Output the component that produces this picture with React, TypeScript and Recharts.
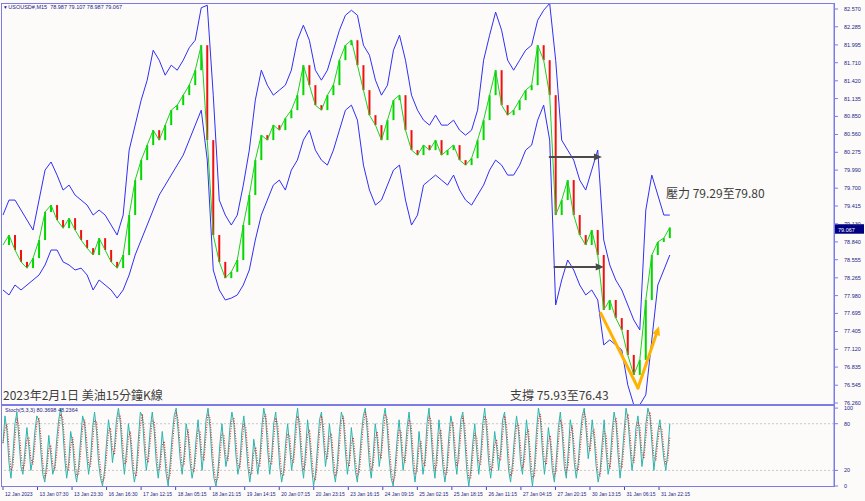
import React from "react";
import { ComposedChart, Line, Bar, Cell, XAxis, YAxis, ReferenceLine } from "recharts";

// USOUSD M15, 12 Jan - 1 Feb 2023, one sample every ~11 bars
const closes = [
  78.79, 78.95, 78.71, 78.52, 78.42, 78.58, 78.87, 79.32, 79.43, 79.19,
  79.06, 79.22, 79.03, 78.87, 78.74, 78.63, 78.9, 78.71, 78.52, 78.42,
  78.63, 79.27, 79.83, 80.15, 80.39, 80.63, 80.47, 80.71, 80.95, 81.03,
  81.19, 81.35, 81.59, 81.99, 80.47, 78.95, 78.52, 78.26, 78.36, 78.55,
  79.11, 79.59, 80.15, 80.55, 80.47, 80.71, 80.63, 80.82, 80.95, 81.19,
  81.67, 81.35, 81.03, 80.95, 81.19, 81.35, 81.75, 81.99, 82.07, 81.67,
  81.27, 80.87, 80.71, 80.47, 80.79, 81.11, 81.19, 80.63, 80.31, 80.23,
  80.39, 80.31, 80.47, 80.23, 80.31, 80.39, 80.15, 80.07, 80.18, 80.47,
  80.79, 81.19, 81.59, 81.03, 80.87, 80.95, 81.11, 81.27, 81.35, 81.99,
  81.75, 81.19, 79.27, 79.51, 79.83, 79.27, 78.95, 78.79, 79.03, 78.63,
  77.75, 77.91, 77.62, 77.43, 77.03, 76.71, 76.95, 77.91, 78.63, 78.84,
  78.9, 79.07,
];

const upperBand = [
  79.27, 79.51, 79.51, 79.35, 79.19, 79.03, 79.51, 79.99, 80.12, 79.91,
  79.67, 79.75, 79.59, 79.51, 79.43, 79.27, 79.35, 79.27, 79.11, 78.95,
  79.27, 80.31, 80.71, 81.11, 81.43, 81.91, 81.75, 81.51, 81.67, 81.59,
  81.75, 81.95, 82.07, 82.59, 82.63, 81.19, 79.51, 79.27, 79.11, 79.27,
  79.75, 80.31, 81.11, 81.59, 81.35, 81.19, 81.27, 81.35, 81.59, 82.07,
  82.31, 82.07, 81.59, 81.43, 81.59, 81.91, 82.23, 82.47, 82.55, 82.47,
  81.99, 81.83, 81.43, 81.19, 81.35, 81.91, 82.15, 81.75, 81.19, 80.95,
  80.79, 80.71, 80.87, 80.71, 80.71, 80.79, 80.63, 80.55, 80.63, 80.95,
  81.75, 82.15, 82.52, 82.23, 81.75, 81.59, 81.75, 81.91, 81.99, 82.39,
  82.55, 82.66, 81.75, 80.47, 80.31, 80.15, 79.83, 79.67, 79.99, 80.31,
  78.87, 78.47, 78.23, 78.07, 77.83, 77.59, 77.43, 79.35, 79.91, 79.59,
  79.27, 79.27,
];

const lowerBand = [
  78.07, 77.99, 78.15, 78.07, 78.15, 78.23, 78.31, 78.47, 78.71, 78.71,
  78.52, 78.47, 78.39, 78.42, 78.31, 78.07, 78.23, 78.15, 78.07, 77.94,
  78.07, 78.31, 78.63, 78.87, 79.11, 79.35, 79.59, 79.75, 79.91, 80.07,
  80.23, 80.47, 80.71, 80.95, 80.15, 78.39, 78.07, 77.91, 77.94, 77.99,
  78.15, 78.39, 78.87, 79.27, 79.51, 79.75, 79.83, 79.67, 79.99, 80.15,
  80.47, 80.63, 80.31, 80.15, 80.07, 80.31, 80.63, 80.95, 81.03, 80.79,
  80.07, 79.67, 79.43, 79.51, 79.75, 79.99, 80.07, 79.51, 79.11, 79.27,
  79.75, 79.83, 79.91, 79.83, 79.75, 79.91, 79.67, 79.51, 79.43, 79.59,
  79.75, 79.99, 80.15, 80.07, 79.91, 79.91, 80.07, 80.31, 80.39, 80.79,
  81.03, 80.47, 77.83, 78.23, 78.55, 78.39, 78.15, 77.99, 78.07, 77.91,
  77.19, 77.27, 77.19, 77.11, 76.55, 76.23, 76.23, 76.39, 77.27, 78.15,
  78.39, 78.63,
];

// Stoch(5,3,3) %K, one sample every ~3.7 bars
const stochK = [
  55, 90, 70, 30, 10, 40, 80, 95, 60, 25, 15, 45, 75, 50, 20, 35, 70, 90, 85, 45, 15, 5, 30, 65,
  40, 15, 25, 60, 85, 100, 75, 35, 10, 30, 70, 55, 20, 5, 25, 60, 90, 80, 40, 15, 35, 75, 95, 70,
  30, 10, 0, 20, 55, 85, 65, 30, 50, 85, 100, 80, 40, 15, 45, 80, 60, 25, 5, 20, 60, 95, 90, 50,
  20, 40, 75, 95, 70, 30, 10, 35, 70, 45, 15, 0, 30, 65, 90, 100, 70, 35, 15, 40, 80, 65, 30, 10,
  25, 60, 85, 55, 20, 45, 85, 100, 75, 35, 10, 0, 20, 55, 80, 50, 25, 40, 75, 95, 80, 40, 15, 30,
  70, 90, 60, 25, 5, 25, 60, 40, 15, 35, 75, 100, 85, 45, 15, 40, 80, 95, 65, 25, 5, 20, 55, 80,
  50, 20, 40, 80, 100, 70, 30, 10, 45, 85, 60, 25, 0, 15, 50, 85, 95, 60, 25, 45, 80, 55, 20, 5,
  30, 70, 95, 85, 45, 15, 35, 75, 50, 20, 5, 30, 65, 90, 100, 70, 30, 10, 40, 80, 60, 25, 45, 85,
  100, 75, 35, 10, 0, 25, 60, 85, 55, 20, 40, 75, 95, 65, 25, 5, 30, 70, 45, 15, 35, 80, 100, 70,
  30, 10, 45, 85, 60, 25, 5, 25, 65, 90, 75, 35, 15, 50, 85, 95, 60, 20, 0, 20, 55, 80, 45, 15,
  40, 80, 100, 70, 30, 10, 35, 70, 50, 20, 45, 85, 95, 60, 20, 5, 30, 65, 90, 70, 30, 15, 50, 85,
  60, 20, 0, 25, 70, 100, 85, 45, 15, 40, 75, 55, 20, 5, 35, 75, 95, 65, 25, 10, 45, 85, 70, 30,
  10, 30, 65, 90, 100, 70, 35, 55, 85, 60, 25, 5, 20, 55, 85, 45, 15, 30, 70, 95, 80, 40, 10, 35,
  70, 100, 85, 50, 20, 40, 75, 90, 60, 25, 45, 80, 100, 90, 55, 20, 45, 70, 85, 60, 35, 20, 45, 80,
];

const timeLabels = [
  "12 Jan 2023", "13 Jan 07:30", "13 Jan 23:30", "16 Jan 16:30", "17 Jan 12:15",
  "18 Jan 05:15", "18 Jan 21:15", "19 Jan 14:15", "20 Jan 07:15", "20 Jan 23:15",
  "23 Jan 16:15", "24 Jan 09:15", "25 Jan 02:15", "25 Jan 18:15", "26 Jan 11:15",
  "27 Jan 04:15", "27 Jan 20:15", "30 Jan 13:15", "31 Jan 06:15", "31 Jan 22:15",
];

const priceTicks = [
  82.57, 82.285, 81.995, 81.71, 81.42, 81.135, 80.85, 80.56, 80.275, 79.99, 79.7, 79.415,
  79.13, 78.84, 78.555, 78.265, 77.98, 77.695, 77.405, 77.12, 76.835, 76.545, 76.26,
];
const stochTicks = [0, 20, 80, 100];
const lastPrice = 79.067;

// bar units: 64 M15 bars per time label
const LAST_BAR = 1236;
const X_DOMAIN = [-1.85, 1540.3];
const timeTicks = timeLabels.map((_, i) => i * 64);

const step = LAST_BAR / (closes.length - 1);
const mainData = closes.map((c, i) => {
  const open = i === 0 ? c : closes[i - 1];
  return {
    bar: i * step,
    close: c,
    upper: upperBand[i],
    lower: lowerBand[i],
    body: [Math.min(open, c), Math.max(open, c)],
    rising: c >= open,
  };
});

// signal line trails %K by about one bar at this sampling
const stochData = stochK.map((k, j) => ({
  bar: (j * LAST_BAR) / (stochK.length - 1),
  k,
  d: j === 0 ? k : (k + stochK[j - 1]) / 2,
}));

const AXIS_FONT = "Liberation Sans, DejaVu Sans, sans-serif";
const AXIS_COLOR = "#1c1c8a";
const FRAME = "#7c7ce6";

const arrow = (color: string, width: number, head: number, withHead = true) => (p: any) => {
  const { x1, y1, x2, y2 } = p;
  const a = Math.atan2(y2 - y1, x2 - x1);
  const hx = x2 - head * Math.cos(a);
  const hy = y2 - head * Math.sin(a);
  const ox = Math.sin(a) * head * 0.45;
  const oy = -Math.cos(a) * head * 0.45;
  return (
    <g>
      <line
        x1={x1}
        y1={y1}
        x2={withHead ? hx : x2}
        y2={withHead ? hy : y2}
        stroke={color}
        strokeWidth={width}
        strokeLinecap="round"
      />
      {withHead && (
        <polygon points={`${x2},${y2} ${hx + ox},${hy + oy} ${hx - ox},${hy - oy}`} fill={color} />
      )}
    </g>
  );
};

// current price tag on the right scale
const PriceBox = (props: any) => {
  const vb = props.viewBox || {};
  const x = vb.x + vb.width + 1;
  const y = vb.y;
  return (
    <g>
      <rect x={x} y={y - 3.5} width={29} height={9.5} fill="#000080" />
      <text x={x + 3} y={y + 4} fontSize={5.5} fill="#ffffff" fontFamily={AXIS_FONT}>
        {lastPrice.toFixed(3)}
      </text>
    </g>
  );
};

const TimeTick = (props: any) => {
  const { x, y, payload } = props;
  const label = timeLabels[Math.round(payload.value / 64)];
  return (
    <g>
      <line x1={x} y1={y - 6} x2={x} y2={y - 2} stroke={AXIS_COLOR} strokeWidth={0.8} />
      <text x={x + 2} y={y + 3.5} fontSize={5} fill={AXIS_COLOR} fontFamily={AXIS_FONT}>
        {label}
      </text>
    </g>
  );
};

const note: React.CSSProperties = {
  position: "absolute",
  fontFamily: "Noto Sans CJK TC, sans-serif",
  fontSize: 12,
  color: "#3c3c3c",
  whiteSpace: "nowrap",
  lineHeight: "16px",
};

export default function App() {
  return (
    <div
      style={{
        position: "absolute",
        left: 0,
        top: 0,
        width: 865,
        height: 501,
        background: "#fdfbf9",
        overflow: "hidden",
      }}
    >
      <div style={{ position: "absolute", left: 0, top: 0 }}>
        <ComposedChart width={865} height={405} data={mainData} margin={{ top: 4, right: 0, bottom: 1, left: 2 }}>
          <XAxis type="number" dataKey="bar" domain={X_DOMAIN} hide allowDataOverflow />
          <YAxis
            orientation="right"
            width={31}
            domain={[76.244, 82.65]}
            ticks={priceTicks}
            interval={0}
            allowDataOverflow
            tickFormatter={(v) => Number(v).toFixed(3)}
            tick={{ fontSize: 5.5, fill: AXIS_COLOR, fontFamily: AXIS_FONT }}
            tickSize={4}
            tickMargin={6}
            tickLine={{ stroke: FRAME }}
            axisLine={{ stroke: FRAME }}
          />
          <Bar dataKey="body" barSize={2} isAnimationActive={false}>
            {mainData.map((d, i) => (
              <Cell key={i} fill={d.rising ? "#00d800" : "#f01010"} />
            ))}
          </Bar>
          <Line type="linear" dataKey="close" stroke="#1fd01f" strokeWidth={1} dot={false} isAnimationActive={false} />
          <Line type="linear" dataKey="upper" stroke="#2f2ff5" strokeWidth={1} dot={false} isAnimationActive={false} />
          <Line type="linear" dataKey="lower" stroke="#2f2ff5" strokeWidth={1} dot={false} isAnimationActive={false} />
          <ReferenceLine
            segment={[{ x: 91 * step, y: 80.2 }, { x: 99.7 * step, y: 80.2 }]}
            shape={arrow("#4a4a4a", 2, 8)}
          />
          <ReferenceLine
            segment={[{ x: 91.8 * step, y: 78.44 }, { x: 100 * step, y: 78.44 }]}
            shape={arrow("#4a4a4a", 2, 8)}
          />
          <ReferenceLine
            segment={[{ x: 99.5 * step, y: 77.7 }, { x: 105.7 * step, y: 76.5 }]}
            shape={arrow("#ffb300", 3, 9, false)}
          />
          <ReferenceLine
            segment={[{ x: 105.7 * step, y: 76.5 }, { x: 109.2 * step, y: 77.49 }]}
            shape={arrow("#ffb300", 3, 9)}
          />
          <ReferenceLine y={lastPrice} stroke="none" label={<PriceBox />} />
        </ComposedChart>
      </div>

      <div style={{ position: "absolute", left: 0, top: 405 }}>
        <ComposedChart width={865} height={96} data={stochData} margin={{ top: 0, right: 0, bottom: 0, left: 2 }}>
          <XAxis
            type="number"
            dataKey="bar"
            domain={X_DOMAIN}
            ticks={timeTicks}
            interval={0}
            allowDataOverflow
            height={15}
            tickSize={4}
            tickMargin={2}
            tickLine={false}
            axisLine={false}
            tick={<TimeTick />}
          />
          <YAxis
            orientation="right"
            width={31}
            domain={[0, 104]}
            ticks={stochTicks}
            interval={0}
            tick={{ fontSize: 5.5, fill: AXIS_COLOR, fontFamily: AXIS_FONT }}
            tickSize={4}
            tickMargin={6}
            tickLine={{ stroke: FRAME }}
            axisLine={{ stroke: FRAME }}
          />
          <ReferenceLine y={80} stroke="#c9c9c9" strokeDasharray="2 2" />
          <ReferenceLine y={20} stroke="#c9c9c9" strokeDasharray="2 2" />
          <Line type="linear" dataKey="k" stroke="#2ab5ad" strokeWidth={1} dot={false} isAnimationActive={false} />
          <Line
            type="linear"
            dataKey="d"
            stroke="#f01818"
            strokeWidth={1}
            strokeDasharray="1 1.5"
            dot={false}
            isAnimationActive={false}
          />
        </ComposedChart>
      </div>

      {/* panel frames */}
      <div style={{ position: "absolute", left: 1, top: 3, width: 834, height: 402, border: `1px solid ${FRAME}`, boxSizing: "border-box", pointerEvents: "none" }} />
      <div style={{ position: "absolute", left: 1, top: 405, width: 834, height: 82, border: `1px solid ${FRAME}`, boxSizing: "border-box", pointerEvents: "none" }} />

      <div style={{ position: "absolute", left: 4, top: 4, fontFamily: AXIS_FONT, fontSize: 5.5, color: AXIS_COLOR, whiteSpace: "pre" }}>
        {"\u25BE USOUSD#,M15  78.987 79.107 78.987 79.067"}
      </div>
      <div style={{ position: "absolute", left: 5, top: 407, fontFamily: AXIS_FONT, fontSize: 5.5, color: AXIS_COLOR, whiteSpace: "pre" }}>
        {"Stoch(5,3,3) 80.3698 48.2364"}
      </div>

      <div style={{ ...note, left: 666, top: 185 }}>壓力 79.29至79.80</div>
      <div style={{ ...note, left: 3, top: 387 }}>2023年2月1日 美油15分鐘K線</div>
      <div style={{ ...note, left: 510, top: 387 }}>支撐 75.93至76.43</div>
    </div>
  );
}
